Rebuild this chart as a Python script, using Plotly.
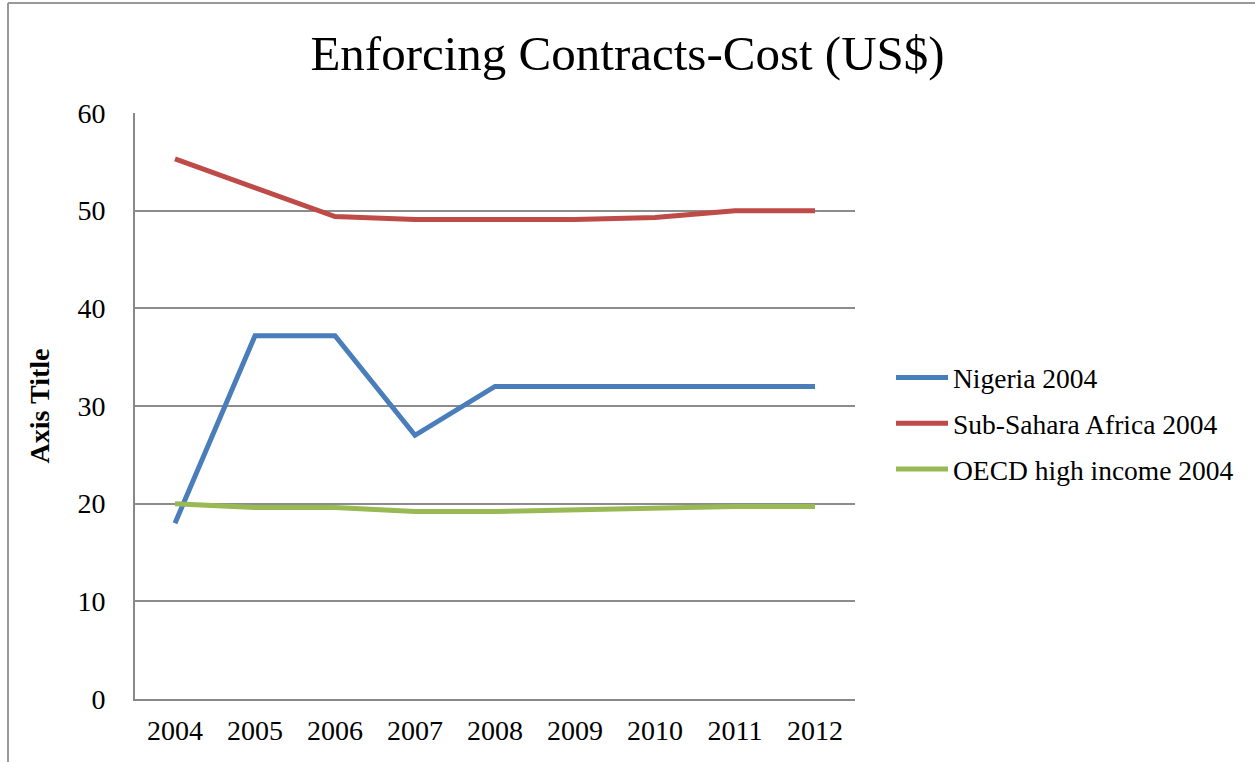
import plotly.graph_objects as go

# Reporting years on the category axis
years = ["2004", "2005", "2006", "2007", "2008", "2009", "2010", "2011", "2012"]

# Cost of enforcing contracts by group
nigeria = [18.0, 37.2, 37.2, 27.0, 32.0, 32.0, 32.0, 32.0, 32.0]
sub_sahara = [55.3, 52.4, 49.4, 49.1, 49.1, 49.1, 49.3, 50.0, 50.0]
oecd_high = [20.0, 19.6, 19.6, 19.2, 19.2, 19.4, 19.6, 19.7, 19.7]

y_ticks = [0, 10, 20, 30, 40, 50, 60]

FONT = "Liberation Serif"

series = [
    ("Nigeria 2004", nigeria, "#4a7ebb"),
    ("Sub-Sahara Africa 2004", sub_sahara, "#be4b48"),
    ("OECD high income 2004", oecd_high, "#98b954"),
]

fig = go.Figure()
for name, vals, color in series:
    fig.add_trace(go.Scatter(
        x=years, y=vals, name=name, mode="lines", legendgroup=name,
        line=dict(color=color, width=5),
    ))

fig.update_layout(
    width=1255, height=762,
    margin=dict(l=135, r=400, t=113, b=63),
    paper_bgcolor="white", plot_bgcolor="white",
    font=dict(family=FONT, color="black", size=28),
    title=dict(
        text="Enforcing Contracts-Cost (US$)",
        x=0.5, xanchor="center", xref="container",
        y=1 - 53 / 762, yanchor="middle", yref="container",
        font=dict(family=FONT, size=49, color="black"),
    ),
    showlegend=True,
    legend=dict(
        x=1.05, xanchor="left", y=0.47, yanchor="middle",
        font=dict(family=FONT, size=27.5),
        tracegroupgap=7, itemwidth=52,
        bgcolor="rgba(0,0,0,0)",
    ),
    xaxis=dict(
        type="category", range=[-0.5, 8.5],
        showgrid=False, showline=True, linecolor="#888888", linewidth=2,
        ticks="", tickfont=dict(family=FONT, size=28),
        ticklabelstandoff=5,
    ),
    yaxis=dict(
        range=[0, 60], tickvals=y_ticks,
        showgrid=True, gridcolor="#8c8c8c", gridwidth=1.5,
        showline=True, linecolor="#888888", linewidth=2,
        zeroline=False, ticks="",
        tickfont=dict(family=FONT, size=28),
        ticklabelstandoff=22,
        title=dict(text="<b>Axis Title</b>", font=dict(family=FONT, size=28), standoff=20),
    ),
)

# page frame: top and left edges
fig.add_shape(type="line", xref="paper", yref="paper",
              x0=(8 - 135) / 720, x1=(1255 - 135) / 720,
              y0=(699 - 3) / 586, y1=(699 - 3) / 586,
              line=dict(color="#999999", width=2))
fig.add_shape(type="line", xref="paper", yref="paper",
              x0=(8 - 135) / 720, x1=(8 - 135) / 720,
              y0=(699 - 3) / 586, y1=(699 - 770) / 586,
              line=dict(color="#999999", width=2))

fig.write_html("out.html")
